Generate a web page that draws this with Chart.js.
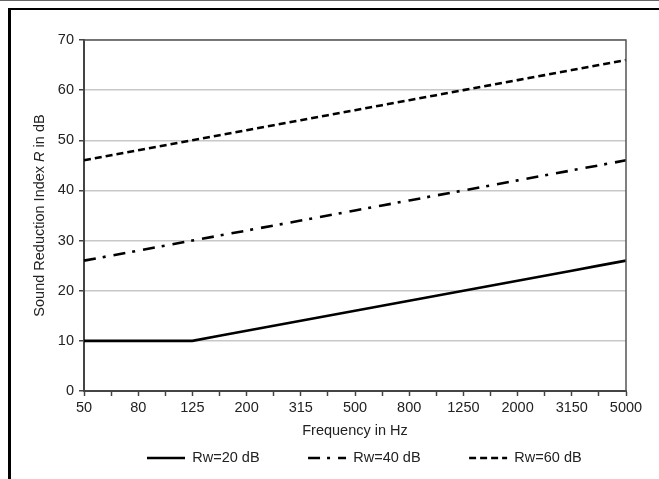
<!DOCTYPE html>
<html><head><meta charset="utf-8">
<script src="https://cdn.jsdelivr.net/npm/chart.js@4/dist/chart.umd.min.js"></script>
<style>
html,body{margin:0;padding:0;background:#fff;}
#wrap{position:relative;width:659px;height:479px;overflow:hidden;background:#fff;}
#c{position:absolute;left:0;top:0;}
.ln{position:absolute;pointer-events:none;}
</style></head><body>
<div id="wrap">
<canvas id="c" width="659" height="479"></canvas>
<div class="ln" style="left:0;top:0;width:659px;height:1px;background:#666"></div>
<div class="ln" style="left:8px;top:8px;width:651px;height:2px;background:#000"></div>
<div class="ln" style="left:8px;top:8px;width:3px;height:471px;background:#000"></div>
</div>
<script>
// ---- data ----
const frequencies = ['50','63','80','100','125','160','200','250','315','400','500','630','800','1000','1250','1600','2000','2500','3150','4000','5000'];
const tickLabels = ['50','80','125','200','315','500','800','1250','2000','3150','5000'];
const rw20 = [10,10,10,10,10,11,12,13,14,15,16,17,18,19,20,21,22,23,24,25,26];
const rw40 = [26,27,28,29,30,31,32,33,34,35,36,37,38,39,40,41,42,43,44,45,46];
const rw60 = [46,47,48,49,50,51,52,53,54,55,56,57,58,59,60,61,62,63,64,65,66];
const seriesNames = ['Rw=20 dB','Rw=40 dB','Rw=60 dB'];
const yMin = 0, yMax = 70, yStep = 10;
const xTitle = 'Frequency in Hz';
const yTitleParts = [['Sound Reduction Index ', 'normal'], ['R', 'italic'], [' in dB', 'normal']];

// ---- style ----
const FONT = "'Liberation Sans', Arial, sans-serif";
const FS = 14.5;
const TXT = '#222';
const AXIS = '#444';

const frameLines = {
  id: 'frameLines',
  afterLayout(chart) {
    const lg = chart.legend;
    if (!lg) return;
    const P = lg.options.labels.padding;
    const dx = 147 - (lg.left + P);
    lg.left += dx; lg.right += dx;
    const top = 458 - P - FS / 2;
    lg.top = top; lg.bottom = top + P + FS + 12; lg.height = lg.bottom - lg.top;
  },
  afterDraw(chart) {
    const {ctx, chartArea: a} = chart;
    ctx.save();
    ctx.strokeStyle = '#555';
    ctx.lineWidth = 1.5;
    ctx.beginPath();
    ctx.moveTo(a.left, a.top);
    ctx.lineTo(a.right, a.top);
    ctx.lineTo(a.right, a.bottom);
    ctx.stroke();
    // y-axis title with italic R
    const cy = (a.top + a.bottom) / 2;
    ctx.translate(40, cy);
    ctx.rotate(-Math.PI / 2);
    ctx.fillStyle = TXT;
    ctx.textBaseline = 'middle';
    ctx.textAlign = 'left';
    let total = 0;
    const widths = yTitleParts.map(([t, s]) => { ctx.font = `${s} ${FS}px ${FONT}`; const w = ctx.measureText(t).width; total += w; return w; });
    let x = -total / 2;
    yTitleParts.forEach(([t, s], i) => { ctx.font = `${s} ${FS}px ${FONT}`; ctx.fillText(t, x, 0); x += widths[i]; });
    ctx.restore();
  }
};

new Chart(document.getElementById('c'), {
  type: 'line',
  data: {
    labels: frequencies,
    datasets: [
      {label: seriesNames[0], data: rw20, borderColor: '#000', backgroundColor: '#000', borderWidth: 2.6, borderDash: [], pointRadius: 0, tension: 0},
      {label: seriesNames[1], data: rw40, borderColor: '#000', backgroundColor: '#000', borderWidth: 2.6, borderDash: [12, 7, 3, 8], pointRadius: 0, tension: 0},
      {label: seriesNames[2], data: rw60, borderColor: '#000', backgroundColor: '#000', borderWidth: 2.6, borderDash: [7, 4], pointRadius: 0, tension: 0}
    ]
  },
  options: {
    responsive: false,
    animation: false,
    devicePixelRatio: 1,
    layout: {padding: {top: 40, right: 33, bottom: 27, left: 0}},
    plugins: {
      tooltip: {enabled: false},
      legend: {
        position: 'bottom',
        align: 'start',
        maxHeight: 1,
        labels: {
          usePointStyle: true,
          pointStyle: 'line',
          pointStyleWidth: 38,
          padding: 48.5,
          color: TXT,
          font: {family: FONT, size: FS},
          generateLabels(chart) {
            const items = Chart.defaults.plugins.legend.labels.generateLabels(chart);
            items.forEach(it => {
              const ds = chart.data.datasets[it.datasetIndex];
              it.lineDash = ds.borderDash || [];
              it.lineWidth = ds.borderWidth;
              it.strokeStyle = ds.borderColor;
              it.pointStyle = 'line';
            });
            return items;
          }
        }
      }
    },
    scales: {
      x: {
        type: 'category',
        afterFit(s) { s.height = 60; },
        grid: {display: true, drawOnChartArea: false, drawTicks: true, tickLength: 5, tickColor: AXIS, tickWidth: 1.5},
        border: {display: true, color: AXIS, width: 2},
        ticks: {
          autoSkip: false, maxRotation: 0, minRotation: 0, padding: 3, color: TXT,
          font: {family: FONT, size: FS},
          callback(v, i) { const l = frequencies[i]; return tickLabels.includes(l) ? l : ''; }
        },
        title: {display: true, text: xTitle, color: TXT, font: {family: FONT, size: FS}, padding: {top: 0, bottom: 11}}
      },
      y: {
        min: yMin, max: yMax,
        afterFit(s) { s.width = 84; },
        grid: {color: '#c8c8c8', lineWidth: 1.5, drawTicks: true, tickLength: 5, tickColor: AXIS, tickWidth: 1.5},
        border: {display: true, color: AXIS, width: 2},
        ticks: {stepSize: yStep, padding: 5, color: TXT, font: {family: FONT, size: FS}}
      }
    }
  },
  plugins: [frameLines]
});
</script>
</body></html>
